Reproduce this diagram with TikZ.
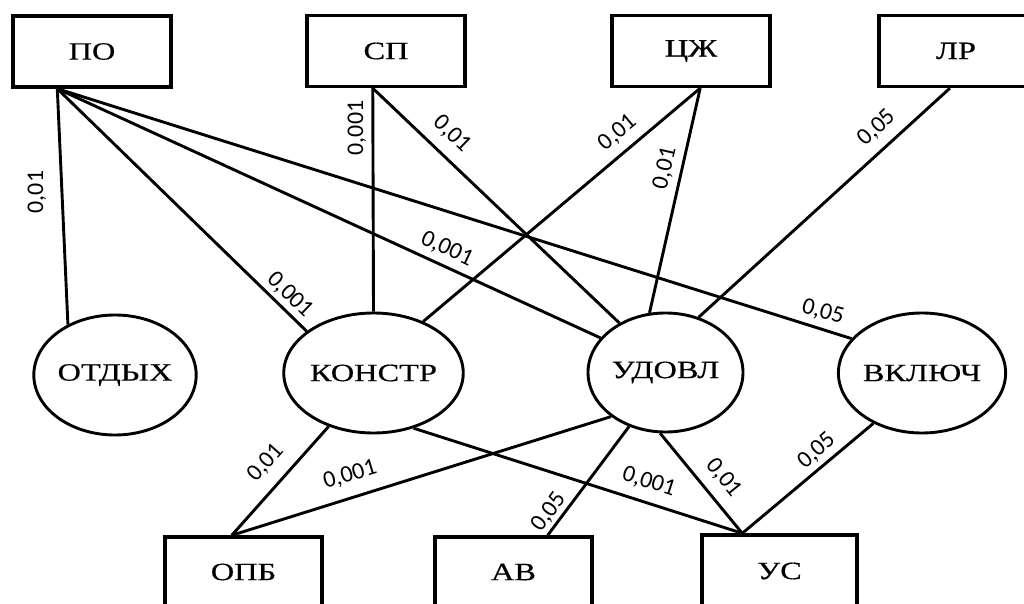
\documentclass[tikz,border=0pt]{standalone}
\usepackage{fontspec}
\setmainfont{Liberation Serif}
\newfontfamily\nodefont[FakeStretch=1.3,FakeBold=0.4]{Liberation Serif}
\newfontfamily\numfont{Carlito}
\usetikzlibrary{shapes.geometric,calc}
\begin{document}
\begin{tikzpicture}[x=1bp,y=-1bp,
  boxnode/.style={draw, line width=3.4bp, rectangle, minimum width=158bp, minimum height=71bp, inner sep=0pt, font=\nodefont\fontsize{25}{27}\selectfont},
  ellnode/.style={draw, line width=2.9bp, ellipse, minimum width=156bp, minimum height=120bp, inner sep=0pt, font=\nodefont\fontsize{25}{27}\selectfont},
  edge/.style={line width=2.9bp},
  wlabel/.style={font=\numfont\fontsize{24}{26}\selectfont, inner sep=0pt}]
\useasboundingbox (0,0) rectangle (1024,604);
\clip (0,0) rectangle (1024,604);
\fill[white] (0,0) rectangle (1024,604);
% top boxes
\node[boxnode] (po) at (92,51.5) {ПО};
\node[boxnode] (sp) at (386,51) {СП};
\node[boxnode] (czh) at (691,51) {ЦЖ};
\node[boxnode, minimum width=154bp] (lr) at (956,51) {ЛР};
% ellipses
\node[ellnode] (otdyh) at (115,375) {ОТДЫХ};
\node[ellnode, minimum width=157bp] (konstr) at (373.5,373) {КОНСТР};
\node[ellnode, minimum width=155bp, minimum height=119bp] (udovl) at (665.5,372.5) {УДОВЛ};
\node[ellnode] (vkl) at (922,373) {ВКЛЮЧ};
% bottom boxes
\node[boxnode, minimum width=157bp, minimum height=70bp] (opb) at (243.5,572) {ОПБ};
\node[boxnode, minimum width=157bp, minimum height=70bp] (ab) at (513.5,572) {АВ};
\node[boxnode, minimum width=155bp, minimum height=72bp] (us) at (779.5,571) {УС};
% attachment points on boxes
\coordinate (po-b) at ($(po.south west)!0.285!(po.south east)$);
\coordinate (sp-b) at ($(sp.south west)!0.418!(sp.south east)$);
\coordinate (czh-b) at ($(czh.south west)!0.557!(czh.south east)$);
\coordinate (lr-b) at ($(lr.south west)!0.461!(lr.south east)$);
\coordinate (opb-t) at ($(opb.north west)!0.427!(opb.north east)$);
\coordinate (ab-t) at ($(ab.north west)!0.713!(ab.north east)$);
\coordinate (us-t) at ($(us.north west)!0.265!(us.north east)$);
% connectors
\draw[edge] (po-b) -- (otdyh.133);
\draw[edge] (po-b) -- (konstr.148);
\draw[edge] (po-b) -- (udovl.152);
\draw[edge] (po-b) -- (vkl.154);
\draw[edge] (sp-b) -- (konstr.90);
\draw[edge] (sp-b) -- (udovl.133);
\draw[edge] (czh-b) -- (konstr.46);
\draw[edge] (czh-b) -- (udovl.105);
\draw[edge] (lr-b) -- (udovl.59);
\draw[edge] (opb-t) -- (konstr.230);
\draw[edge] (opb-t) -- (udovl.219);
\draw[edge] (konstr.306) -- (us-t);
\draw[edge] (udovl.236) -- (ab-t);
\draw[edge] (udovl.265) -- (us-t);
\draw[edge] (vkl.226) -- (us-t);
% weights
\node[wlabel, rotate=90] (w1) at (37,192) {0,01};
\node[wlabel, rotate=90] (w2) at (357,128) {0,001};
\node[wlabel, rotate=-44] (w3) at (452,134) {0,01};
\node[wlabel, rotate=40] (w4) at (618,133) {0,01};
\node[wlabel, rotate=77] (w5) at (665,168) {0,01};
\node[wlabel, rotate=43] (w6) at (877,128) {0,05};
\node[wlabel, rotate=-44] (w7) at (290,295) {0,001};
\node[wlabel, rotate=-25] (w8) at (447,249) {0,001};
\node[wlabel, rotate=-15] (w9) at (823,312) {0,05};
\node[wlabel, rotate=48] (w10) at (266,463) {0,01};
\node[wlabel, rotate=17] (w11) at (350,475) {0,001};
\node[wlabel, rotate=54] (w12) at (549,512) {0,05};
\node[wlabel, rotate=-18] (w13) at (649,482) {0,001};
\node[wlabel, rotate=-51] (w14) at (724,478) {0,01};
\node[wlabel, rotate=41] (w15) at (817,451) {0,05};
\end{tikzpicture}
\end{document}
